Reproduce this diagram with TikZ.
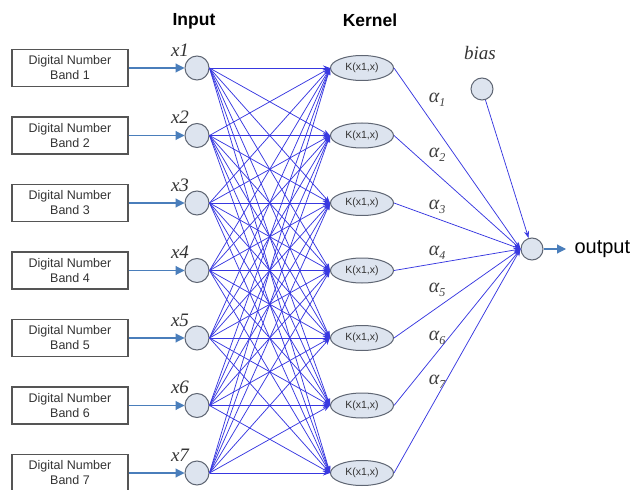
\documentclass[tikz,border=0pt]{standalone}
\usepackage{fontspec}
\setmainfont{Liberation Sans}
\newfontfamily\serifit{Liberation Serif}
\usetikzlibrary{arrows.meta,shapes.geometric}
\definecolor{netblue}{HTML}{3838E0}
\definecolor{inblue}{HTML}{4A7EBB}
\definecolor{nodefill}{HTML}{DDE4EF}
\definecolor{nodedraw}{HTML}{5F6673}
\definecolor{boxdraw}{HTML}{555555}
\newcommand{\alphasub}[1]{α\raisebox{-4bp}{\fontsize{12bp}{12bp}\selectfont #1}}
\begin{document}
\begin{tikzpicture}[x=1bp,y=-1bp,
  bandbox/.style={draw=boxdraw,line width=1.3bp,minimum width=116bp,minimum height=37bp,inner sep=0pt,align=center,font=\fontsize{12.5bp}{15bp}\selectfont,text=black!80},
  inneuron/.style={circle,draw=nodedraw,fill=nodefill,line width=1bp,minimum size=24bp,inner sep=0pt},
  kern/.style={ellipse,draw=nodedraw,fill=nodefill,line width=1bp,minimum width=63bp,minimum height=25bp,inner sep=0pt,font=\fontsize{10.5bp}{12bp}\selectfont,text=black!80},
  link/.style={draw=netblue,line width=0.75bp,-{Stealth[length=7bp,width=5bp]}},
  feed/.style={draw=inblue,line width=1.1bp,-{Triangle[length=9bp,width=9bp]}},
  xlab/.style={font=\serifit\itshape\fontsize{19bp}{20bp}\selectfont,text=black!80},
  alab/.style={font=\serifit\itshape\fontsize{20bp}{20bp}\selectfont,text=black!75},
  head/.style={font=\bfseries\fontsize{17.5bp}{20bp}\selectfont}]
\useasboundingbox (0,0) rectangle (631,490);
\clip (0,0) rectangle (631,490);
\node[head] (hin) at (194,21) {Input};
\node[head] (hk) at (370,20) {Kernel};
\foreach \i/\y in {1/68,2/135.5,3/203,4/270.5,5/338,6/405.5,7/473}{
  \node[bandbox] (b\i) at (70,\y) {Digital Number\\Band \i};
  \node[inneuron] (x\i) at (197,\y) {};
  \node[xlab] (lx\i) at (180,\y-18) {x\i};
  \node[kern] (k\i) at (362,\y) {K(x1,x)};
  \draw[feed] (b\i) -- (x\i);
}
\foreach \i in {1,...,7}{
  \foreach \j in {1,...,7}{
    \draw[link] (x\i.east) -- (k\j.west);
  }
}
\node[inneuron,minimum size=22bp] (bias) at (482,89) {};
\node[xlab] (lbias) at (480,53) {bias};
\node[inneuron,minimum size=22bp] (out) at (532,249) {};
\coordinate (oend) at (566,249);
\draw[feed] (out) -- (oend);
\node[anchor=west,font=\fontsize{20bp}{22bp}\selectfont] (lout) at (571,249) {output};
\foreach \i in {1,...,7}{
  \draw[link] (k\i.east) -- (out.west);
}
\draw[link] (bias) -- (out);
\foreach \i/\y in {1/100,2/155,3/207,4/253,5/290,6/338,7/382}{
  \node[alab] (a\i) at (437,\y) {\alphasub{\i}};
}
\end{tikzpicture}
\end{document}
